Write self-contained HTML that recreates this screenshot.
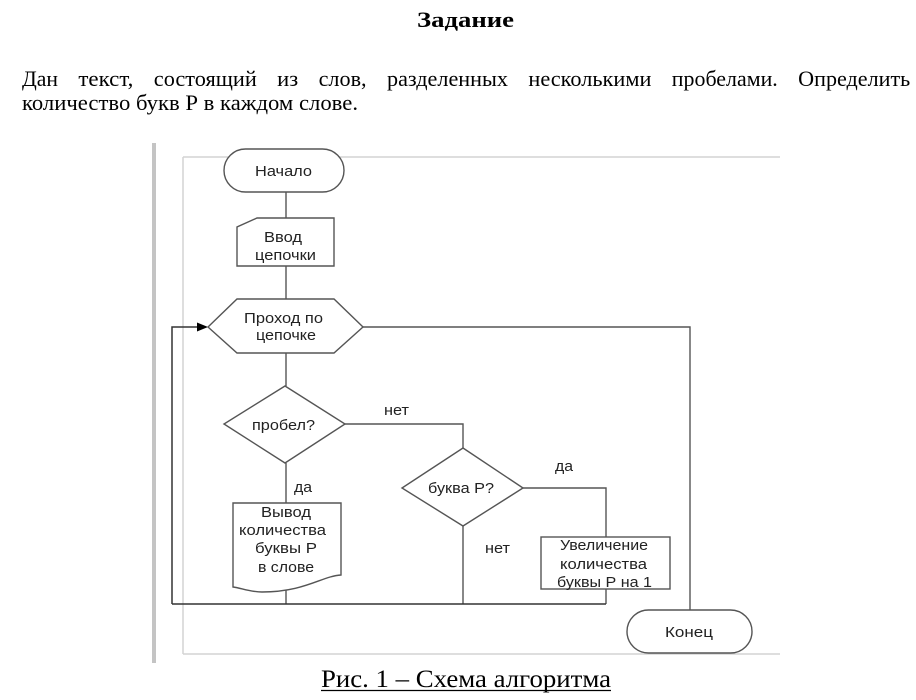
<!DOCTYPE html>
<html>
<head>
<meta charset="utf-8">
<style>
  html, body { margin:0; padding:0; background:#fff; }
  body { width:916px; height:700px; overflow:hidden; position:relative; }
  svg { position:absolute; left:0; top:0; }
  .serif { font-family:"Liberation Serif","Noto Serif CJK SC",serif; }
  .sans { font-family:"Liberation Sans","Noto Sans CJK SC",sans-serif; }
</style>
</head>
<body>
<svg width="916" height="700" viewBox="0 0 916 700" xmlns="http://www.w3.org/2000/svg">
  <!-- Title -->
  <text class="serif" x="417" y="27" font-size="22" font-weight="bold" fill="#000" textLength="97" lengthAdjust="spacingAndGlyphs">Задание</text>

  <!-- Paragraph line 1 (justified) -->
  <g class="serif" font-size="22" fill="#000">
    <text x="22" y="86" textLength="36" lengthAdjust="spacingAndGlyphs">Дан</text>
    <text x="78.4" y="86" textLength="55" lengthAdjust="spacingAndGlyphs">текст,</text>
    <text x="153.8" y="86" textLength="103" lengthAdjust="spacingAndGlyphs">состоящий</text>
    <text x="277.2" y="86" textLength="21" lengthAdjust="spacingAndGlyphs">из</text>
    <text x="318.6" y="86" textLength="48" lengthAdjust="spacingAndGlyphs">слов,</text>
    <text x="387" y="86" textLength="121" lengthAdjust="spacingAndGlyphs">разделенных</text>
    <text x="528.4" y="86" textLength="123" lengthAdjust="spacingAndGlyphs">несколькими</text>
    <text x="671.8" y="86" textLength="106" lengthAdjust="spacingAndGlyphs">пробелами.</text>
    <text x="798.2" y="86" textLength="112" lengthAdjust="spacingAndGlyphs">Определить</text>
    <text x="22" y="110" textLength="336" lengthAdjust="spacingAndGlyphs">количество букв Р в каждом слове.</text>
  </g>

  <!-- Frame -->
  <rect x="152" y="143" width="4" height="520" fill="#c4c4c4"/>
  <line x1="183" y1="157" x2="780" y2="157" stroke="#d4d4d4" stroke-width="1.5"/>
  <line x1="183" y1="157" x2="183" y2="654" stroke="#d4d4d4" stroke-width="1.5"/>
  <line x1="183" y1="654" x2="780" y2="654" stroke="#d4d4d4" stroke-width="1.5"/>

  <!-- Connectors -->
  <g stroke="#555" stroke-width="1.4" fill="none">
    <line x1="286" y1="192" x2="286" y2="218"/>
    <line x1="286" y1="266" x2="286" y2="299"/>
    <line x1="286" y1="353" x2="286" y2="386"/>
    <polyline points="345,424 463,424 463,448"/>
    <polyline points="523,488 606,488 606,537"/>
    <line x1="606" y1="589" x2="606" y2="604"/>
    <line x1="463" y1="526" x2="463" y2="604"/>
    <line x1="286" y1="463" x2="286" y2="503"/>
    <line x1="286" y1="588" x2="286" y2="604"/>
    <polyline points="363,327 690,327 690,610"/>
  </g>
  <g stroke="#333" stroke-width="1.5" fill="none">
    <line x1="172" y1="604" x2="606" y2="604"/>
    <polyline points="172,604 172,327 198,327"/>
  </g>
  <polygon points="197,322.5 208,327 197,331.5" fill="#000"/>

  <!-- Shapes -->
  <g stroke="#555" stroke-width="1.4" fill="#fff">
    <rect x="224" y="149" width="120" height="43" rx="21.5" ry="21.5"/>
    <polygon points="257,218 334,218 334,266 237,266 237,227"/>
    <polygon points="208,327 237,299 334,299 363,327 334,353 237,353"/>
    <polygon points="285,386 345,424 285,463 224,424"/>
    <polygon points="463,448 523,488 463,526 402,488"/>
    <rect x="541" y="537" width="129" height="52"/>
    <path d="M233,503 L341,503 L341,575 C322,576 305,592 262,592 C250,592 241,588 233,587 Z"/>
    <rect x="627" y="610" width="125" height="43" rx="21.5" ry="21.5"/>
  </g>

  <!-- Diagram labels -->
  <g class="sans" font-size="15" fill="#222">
    <text x="255" y="176" textLength="57" lengthAdjust="spacingAndGlyphs">Начало</text>
    <text x="264" y="242" textLength="38" lengthAdjust="spacingAndGlyphs">Ввод</text>
    <text x="255" y="260" textLength="61" lengthAdjust="spacingAndGlyphs">цепочки</text>
    <text x="244" y="323" textLength="79" lengthAdjust="spacingAndGlyphs">Проход по</text>
    <text x="256" y="340" textLength="60" lengthAdjust="spacingAndGlyphs">цепочке</text>
    <text x="252" y="430" textLength="63" lengthAdjust="spacingAndGlyphs">пробел?</text>
    <text x="384" y="415" textLength="25" lengthAdjust="spacingAndGlyphs">нет</text>
    <text x="294" y="492" textLength="18" lengthAdjust="spacingAndGlyphs">да</text>
    <text x="428" y="493" textLength="66" lengthAdjust="spacingAndGlyphs">буква Р?</text>
    <text x="485" y="553" textLength="25" lengthAdjust="spacingAndGlyphs">нет</text>
    <text x="555" y="471" textLength="18" lengthAdjust="spacingAndGlyphs">да</text>
    <text x="261" y="517" textLength="50" lengthAdjust="spacingAndGlyphs">Вывод</text>
    <text x="239" y="535" textLength="87" lengthAdjust="spacingAndGlyphs">количества</text>
    <text x="255" y="553" textLength="62" lengthAdjust="spacingAndGlyphs">буквы Р</text>
    <text x="258" y="572" textLength="56" lengthAdjust="spacingAndGlyphs">в слове</text>
    <text x="560" y="550" textLength="88" lengthAdjust="spacingAndGlyphs">Увеличение</text>
    <text x="560" y="569" textLength="87" lengthAdjust="spacingAndGlyphs">количества</text>
    <text x="557" y="587" textLength="95" lengthAdjust="spacingAndGlyphs">буквы Р на 1</text>
    <text x="665" y="637" textLength="48" lengthAdjust="spacingAndGlyphs">Конец</text>
  </g>

  <!-- Caption -->
  <text class="serif" x="321" y="687" font-size="25" fill="#000" textLength="290" lengthAdjust="spacingAndGlyphs">Рис. 1 – Схема алгоритма</text>
  <line x1="321" y1="690.5" x2="611" y2="690.5" stroke="#000" stroke-width="1.3"/>
</svg>
</body>
</html>
